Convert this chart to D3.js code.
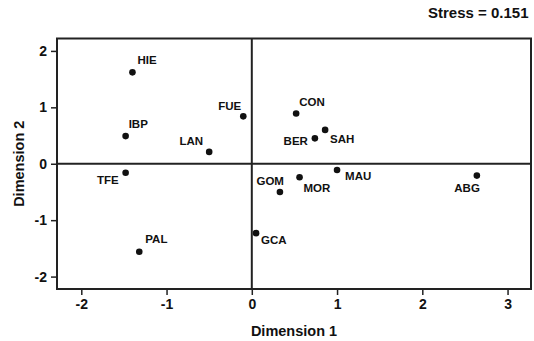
<!DOCTYPE html>
<html>
<head>
<meta charset="utf-8">
<script src="https://cdn.jsdelivr.net/npm/d3@7"></script>
<style>
  body { margin: 0; background: #fff; }
  text { font-family: "Liberation Sans", Arial, sans-serif; font-weight: bold; fill: #111; }
</style>
</head>
<body>
<svg id="chart" width="534" height="341"></svg>
<script>
// sites on the two MDS dimensions
const sites = ["HIE", "FUE", "CON", "IBP", "LAN", "BER", "SAH", "TFE", "MAU", "MOR", "ABG", "GOM", "GCA", "PAL"];
const dim1 = [-1.40, -0.10, 0.52, -1.48, -0.50, 0.74, 0.86, -1.48, 1.00, 0.56, 2.64, 0.33, 0.05, -1.32];
const dim2 = [1.62, 0.84, 0.89, 0.49, 0.21, 0.45, 0.60, -0.16, -0.11, -0.24, -0.21, -0.50, -1.23, -1.56];
const xTicks = [-2, -1, 0, 1, 2, 3];
const yTicks = [-2, -1, 0, 1, 2];
const stress = 0.151;

// where each label sits relative to its point
const labelPos = {
  HIE: [5, -8, "start"], FUE: [-2, -6, "end"], CON: [3, -8, "start"],
  IBP: [3, -8, "start"], LAN: [-6, -7, "end"], BER: [-7, 7, "end"],
  SAH: [5, 13, "start"], TFE: [-7, 11, "end"], MAU: [8, 10, "start"],
  MOR: [4, 15, "start"], ABG: [3, 16, "end"], GOM: [4, -7, "end"],
  GCA: [5, 11, "start"], PAL: [6, -9, "start"]
};

const svg = d3.select("#chart");
const pL = 57, pR = 531, pT = 38.5, pB = 289;

const x = d3.scaleLinear().domain([-2.285, 3.275]).range([pL, pR]);
const y = d3.scaleLinear().domain([-2.22, 2.22]).range([pB, pT]);

// plain hyphen for negatives, as in the original
const fmt = d => String(d);

const xAxis = svg.append("g")
  .attr("transform", `translate(0,${pB})`)
  .call(d3.axisBottom(x).tickValues(xTicks).tickSize(6).tickPadding(4).tickFormat(fmt));
const yAxis = svg.append("g")
  .attr("transform", `translate(${pL},0)`)
  .call(d3.axisLeft(y).tickValues(yTicks).tickSize(6).tickPadding(4).tickFormat(fmt));

[xAxis, yAxis].forEach(g => {
  g.select(".domain").remove();
  g.selectAll(".tick line").attr("stroke", "#222").attr("stroke-width", 1.5);
  g.selectAll(".tick text").style("font-size", "14px").attr("fill", "#111");
});

// zero lines
svg.append("line")
  .attr("x1", pL).attr("x2", pR).attr("y1", y(0)).attr("y2", y(0))
  .attr("stroke", "#222").attr("stroke-width", 2);
svg.append("line")
  .attr("x1", x(0)).attr("x2", x(0)).attr("y1", pT).attr("y2", pB)
  .attr("stroke", "#222").attr("stroke-width", 2);

svg.append("rect")
  .attr("x", pL).attr("y", pT).attr("width", pR - pL).attr("height", pB - pT)
  .attr("fill", "none").attr("stroke", "#222").attr("stroke-width", 2);

const pts = sites.map((s, i) => ({ name: s, d1: dim1[i], d2: dim2[i] }));

svg.selectAll("circle.pt").data(pts).enter().append("circle")
  .attr("class", "pt")
  .attr("cx", d => x(d.d1)).attr("cy", d => y(d.d2)).attr("r", 3.3)
  .attr("fill", "#111");

svg.selectAll("text.lab").data(pts).enter().append("text")
  .attr("class", "lab")
  .attr("x", d => x(d.d1) + labelPos[d.name][0])
  .attr("y", d => y(d.d2) + labelPos[d.name][1])
  .attr("text-anchor", d => labelPos[d.name][2])
  .style("font-size", "11.5px")
  .text(d => d.name);

svg.append("text")
  .attr("x", (pL + pR) / 2).attr("y", 336)
  .attr("text-anchor", "middle").style("font-size", "14.5px")
  .text("Dimension 1");

svg.append("text")
  .attr("transform", `translate(24,${(pT + pB) / 2}) rotate(-90)`)
  .attr("text-anchor", "middle").style("font-size", "14.5px")
  .text("Dimension 2");

svg.append("text")
  .attr("x", 528.5).attr("y", 18)
  .attr("text-anchor", "end").style("font-size", "15px")
  .text("Stress = " + stress);
</script>
</body>
</html>
